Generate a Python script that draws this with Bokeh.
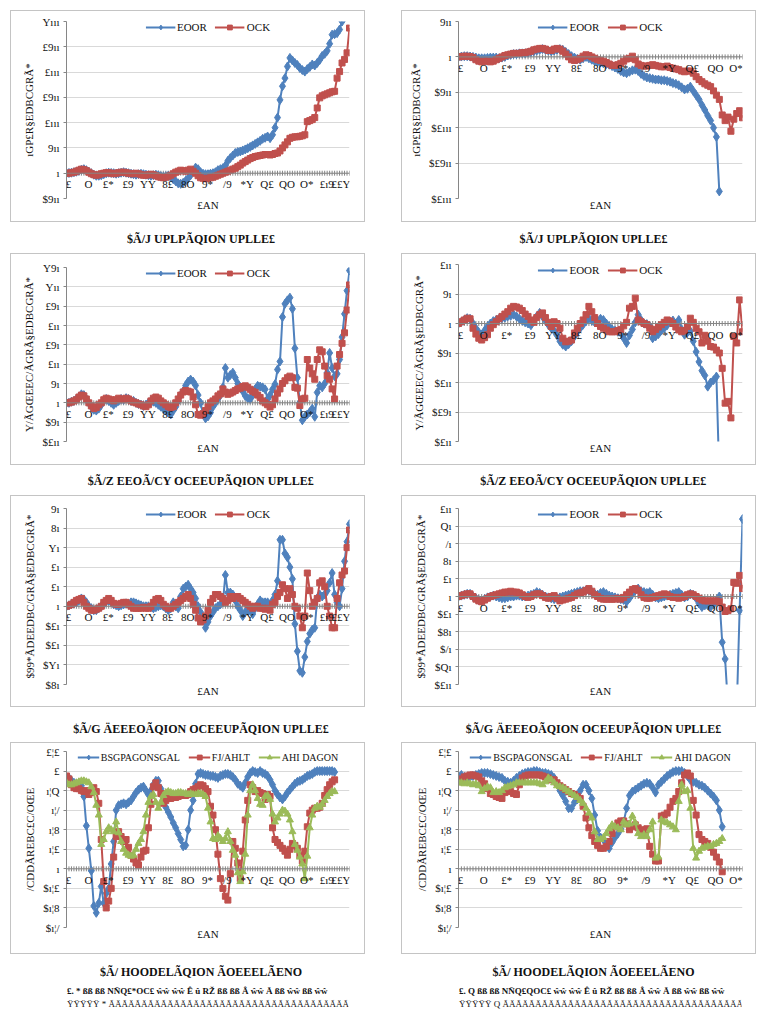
import math
from bokeh.plotting import figure
from bokeh.layouts import column, row
from bokeh.models import Range1d, FixedTicker, Span, Spacer, LabelSet, ColumnDataSource
from bokeh.core.properties import value
from bokeh.embed import file_html
from bokeh.resources import INLINE

FONT = "Liberation Serif"
BLUE, RED, GREEN = "#4F81BD", "#C0504D", "#9BBB59"
AXIS_GRAY, GRID_GRAY, BOX_GRAY = "#868686", "#d9d9d9", "#c4c4c4"

# ---------------------------------------------------------------- data
# category counts of the two chart columns
CATS_LEFT = 115
CATS_RIGHT = 99

# row 1
P1_Y = [-500, 0, 500, 1000, 1500, 2000, 2500, 3000]
P1_EOOR = [0, 5, 10, 20, 30, 50, 70, 80, 60, 30, 0, -30, -50, -50, -40, -20,
           0, 10, 5, 0, -10, 0, 10, 20, 10, 0, -10, -20, -30, -20, -10, -20,
           -30, -40, -50, -40, -30, -40, -60, -70, -60, -50, -80, -120, -160, -200, -210, -190,
           -150, -100, -40, 50, 110, 80, 20, -10, -20, -20, -10, 0, 20, 60, 80, 100,
           150, 245, 300, 350, 400, 420, 430, 450, 470, 495, 520, 550, 580, 610, 640, 680,
           700, 726, 693, 760, 900, 1100, 1450, 1720, 1880, 2110, 2280, 2230, 2180, 2140, 2080, 2040,
           2010, 2060, 2100, 2150, 2130, 2180, 2240, 2320, 2360, 2420, 2560, 2740, 2750, 2770, 2840, 3000]
P1_OCK = [0, 0, 10, 20, 40, 60, 80, 70, 50, 20, -10, -30, -40, -30, -10, 0,
          10, 10, 0, -10, 0, 10, 20, 20, 10, 0, -10, -10, 0, -10, -30, -40,
          -40, -30, -20, -30, -50, -70, -80, -90, -80, -60, -40, -10, 20, 40, 60, 50,
          40, 60, 80, 40, 0, -50, -90, -100, -110, -100, -90, -80, -60, -40, -20, 0,
          20, 40, 60, 80, 100, 130, 160, 200, 230, 260, 290, 310, 330, 340, 350, 360,
          370, 370, 360, 370, 390, 400, 440, 500, 560, 620, 690, 710, 720, 720, 730, 740,
          760, 1020, 1040, 1060, 1100, 1290, 1490, 1530, 1550, 1570, 1590, 1610, 1620, 1880, 2010, 2180,
          2250, 2380, 2870]
P2_Y = [-2000, -1500, -1000, -500, 0, 500]
P2_EOOR = [0, 5, 10, 10, 5, 0, -10, -20, -20, -20, -15, -10, -10, -10, -20, -10,
           0, 20, 30, 40, 40, 50, 50, 50, 60, 70, 80, 90, 100, 110, 100, 90,
           80, 90, 100, 110, 100, 70, 40, 10, -10, -30, -40, -20, 0, -20, -40, -60,
           -70, -80, -90, -100, -110, -130, -150, -170, -200, -220, -230, -210, -190, -180, -200, -240,
           -270, -290, -300, -310, -320, -320, -330, -330, -340, -350, -370, -380, -400, -430, -460, -450,
           -420, -480, -540, -600, -680, -750, -830, -900, -1000, -1130, -1900]
P2_OCK = [0, 5, 10, 10, 5, -10, -40, -60, -70, -60, -60, -70, -60, -40, -20, 0,
          20, 30, 40, 50, 50, 50, 60, 60, 70, 80, 100, 110, 120, 120, 110, 90,
          90, 110, 120, 110, 80, 40, 0, -40, -50, -40, -20, 10, 30, 20, 0, -20,
          -40, -50, -60, -80, -100, -120, -120, -110, -90, -60, -30, -20, 10, -40, -100, -120,
          -130, -130, -120, -110, -120, -130, -140, -140, -130, -150, -160, -170, -180, -200, -210, -200,
          -200, -230, -280, -320, -350, -380, -400, -420, -480, -540, -600, -820, -900, -850, -1050, -880,
          -800, -760, -860]

# row 2
P3_Y = [-100, -50, 0, 50, 100, 150, 200, 250, 300, 350]
P3_EOOR = [0, 0, 3, 5, 10, 15, 22, 20, 10, 0, -10, -18, -20, -15, -5, 5,
           10, 5, 0, -5, 0, 5, 10, 8, 12, 10, 5, 5, 0, -3, -5, -8,
           -5, 0, 5, 3, 0, -5, -10, -15, -20, -25, -30, -20, -10, 5, 20, 30,
           45, 55, 60, 55, 45, 20, 0, -30, -40, -35, -25, -10, 0, 10, 20, 40,
           90, 65, 72, 78, 65, 50, 40, 30, 18, 12, 10, 20, 35, 44, 42, 40,
           35, 10, 20, 35, 48, 86, 107, 222, 256, 265, 272, 243, 141, 65, 0, -45,
           -36, -30, -24, -15, -36, 27, 44, 40, 50, 78, 129, 90, 69, 75, 112, 170,
           230, 290, 342]
P3_OCK = [0, 0, 2, 5, 8, 15, 20, 18, 10, 0, -8, -15, -12, -5, 0, 8,
          12, 10, 8, 5, 8, 12, 10, 8, 12, 10, 5, 2, 0, -3, -5, -8,
          -10, -5, 5, 12, 15, 12, 5, 0, -5, -10, -12, -10, 0, 10, 20, 28,
          32, 30, 28, 15, -5, -30, -32, -28, -20, -10, 0, 5, 10, 18, 23, 36,
          28, 22, 25, 28, 32, 36, 38, 42, 44, 40, 35, 30, 27, 20, 14, 5,
          0, -5, -11, -5, 10, 25, 36, 50, 57, 65, 69, 65, 40, 38, -7, 10,
          12, 112, 90, 75, 61, 112, 137, 132, 95, 70, 61, 36, 10, 95, 125, 154,
          181, 240, 305]
P4_Y = [-200, -150, -100, -50, 0, 50, 100]
P4_EOOR = [0, 3, 6, 9, 8, 0, -8, -15, -19, -12, -5, 0, 4, 6, 8, 9,
           10, 12, 13, 15, 12, 8, 5, 2, 0, -3, 5, 12, 18, 12, 5, -2,
           -8, -12, -20, -30, -36, -39, -35, -30, -22, -14, -8, -2, 4, 9, 5, 2,
           5, 8, 6, 0, -5, -10, -12, -14, -16, -25, -33, -20, -10, 2, 15, 6,
           0, -1, -5, -25, -22, -18, -12, -8, -3, 3, 5, 0, 6, -10, -19, -15,
           -13, -30, -48, -65, -80, -88, -107, -100, -96, -90, -260]
P4_OCK = [0, 3, 6, 9, 8, -8, -18, -25, -28, -24, -19, -8, -2, 3, 8, 12,
          16, 20, 26, 29, 28, 26, 22, 16, 12, 6, 2, 10, 15, 18, 10, 2,
          -5, 3, 0, -8, -25, -31, -30, -28, -16, -8, 0, 6, 15, 29, 20, 10,
          0, -5, -8, -11, -14, -14, -14, -12, -10, -4, 2, 26, 29, 43, 6, 3,
          0, -2, -8, -14, -10, -6, -2, 2, 6, 4, 0, -6, -11, -14, -12, -5,
          9, 2, -8, -14, -33, -20, -30, -39, -40, -45, -50, -76, -135, -132, -160, -22,
          -33, 40, -14]

# row 3
P5_Y = [-40, -30, -20, -10, 0, 10, 20, 30, 40, 50]
P5_EOOR = [0, 0.5, 1, 1.5, 2, 3, 4, 3.5, 2, 0, -1, -2, -2, -1, 0, 1,
           2.5, 3, 2, 1, 0.5, 0, 0.5, 1, 1.5, 1, 2, 2, 1.5, 1, 0.5, 0,
           0, 0, -0.5, -1, -0.5, 0, 0.5, 0, -1, -2, -1, 2, 0, -1, 5, 9,
           10, 11, 9, 7, 4, 0, -3, -6, -11, -8, -5, -3, -1, 0, 1, 2,
           16, 7, 7, 6, 3, 0, -2, -5, -3, -2, -2, -4, -1, 1, 3, 2,
           2, 2, 0, 3, 6, 13, 34, 34, 27, 25, 20, 14, -9, -23, -33, -34,
           -26, -18, -14, -12, -11, 4, 6, 5, 6, 8, 12, 17, 6, 2, 0, 9,
           23, 33, 42]
P5_OCK = [0, 0.5, 1, 2, 3, 3.5, 4, 2, 0, -1, -2, -2, -1.5, -1, 0, 2,
          3, 4, 3, 1.5, 1, 1, 1.5, 2, 2, 1, 0, -1, -1, -1, -1, -0.5,
          -1, -1, 0, 2, 3.5, 4, 3, 1, 0, -1, -1, 0, 1, 2, 3, 4,
          5, 6, 4, 1, -2, -6, -8, -7, -5, -2, 2, 4, 6, 6, 5, 4,
          2, 3, 5, 4, 5, 5, 4, 3, 2, 1, 0, -1, 0, 0, -1, -1,
          -1.5, -1, -2, 1, 2, 5, 7, 11, 9, 4, 9, 6, 0, -1, -5, -11,
          -5, 17, 8, 0, 2, 4, 12, 13, 10, 0, -5, -11, -11, 4, 12, 16,
          18, 30, 39]
P6_Y = [-100, -80, -60, -40, -20, 0, 20, 40, 60, 80, 100]
P6_EOOR = [0, 1, 2, 3, 3, 0, -2, -4, -5, -3, -1, 0, 1, 0, -1, -2,
           -2, -1, 0, 0, 1, 1, 0, 0, 1, 2, 3, 5, 4, 2, 0, -1,
           -2, -3, -2, -1, 0, 1, 2, 3, 4, 5, 6, 6, 7, 7, 5, 3,
           2, 4, 5, 3, 1, 0, -1, -2, -3, -4, -6, -2, 3, 7, 9, 6,
           5, 4, 5, 2, -1, -2, -1, 0, 1, 2, 3, 4, 5, 2, -1, 0,
           3, 2, -2, -8, -12, -10, -10, -12, -9, -5, 0, -52, -71, -125, -160, -150,
           -130, -16, 88]
P6_OCK = [0, 1, 2, 3, 3, 0, -3, -5, -6, -4, -2, 0, 1, 2, 3, 4,
          5, 5, 6, 5, 5, 4, 2, 0, -1, 0, 2, 3, 3, 1, -1, -2,
          0, 1, -2, -5, -4, -3, -2, -1, 1, 3, 4, 5, 7, 9, 6, 2,
          0, -2, -3, -3, -3, -3, -3, -2, -3, -1, 2, 5, 8, 9, 7, 2,
          -1, -2, -2, -1, 0, 1, 2, 3, 2, 0, -1, -1, -2, -1, 0, 2,
          3, 2, 0, -2, -4, -5, -5, -5, -5, -5, -6, -12, -17, -16, -14, 16,
          15, 24, 9]

# row 4
P7_Y = [-0.6, -0.4, -0.2, 0, 0.2, 0.4, 0.6, 0.8, 1.0, 1.2]
P7_BSG = [0.93, 0.93, 0.9, 0.88, 0.87, 0.86, 0.85, 0.74, 0.44, 0.21, -0.02, -0.38, -0.45, -0.35, -0.18, -0.35,
          -0.25, -0.2, 0.05, 0.28, 0.6, 0.65, 0.66, 0.67, 0.66, 0.68, 0.7, 0.74, 0.78, 0.81, 0.83, 0.84,
          0.8, 0.76, 0.8, 0.86, 0.9, 0.9, 0.82, 0.71, 0.63, 0.58, 0.53, 0.47, 0.42, 0.36, 0.3, 0.23,
          0.24, 0.4, 0.6, 0.7, 0.87, 0.97, 0.98, 0.97, 0.96, 0.96, 0.95, 0.95, 0.94, 0.93, 0.95, 0.96,
          0.97, 0.97, 0.96, 0.94, 0.91, 0.87, 0.85, 0.83, 0.88, 0.94, 0.98, 1.0, 0.99, 0.98, 1.0, 0.98,
          0.97, 0.95, 0.91, 0.86, 0.8, 0.76, 0.73, 0.71, 0.74, 0.78, 0.81, 0.84, 0.87, 0.89, 0.9, 0.91,
          0.93, 0.95, 0.96, 0.97, 0.99, 1.0, 1.0, 1.0, 1.0, 1.0, 1.0, 1.0, 0.99]
P7_FJ = [0.95, 0.92, 0.86, 0.83, 0.82, 0.82, 0.8, 0.79, 0.8, 0.76, 0.78, 0.83, 0.79, 0.67, 0.3, -0.13,
         -0.4, -0.33, -0.2, 0.12, 0.33, 0.38, 0.33, 0.28, 0.3, 0.22, 0.14, 0.1, 0.06, 0.04, 0.12, 0.18,
         0.19, 0.42, 0.66, 0.84, 0.88, 0.83, 0.77, 0.67, 0.7, 0.72, 0.72, 0.73, 0.73, 0.74, 0.75, 0.75,
         0.75, 0.76, 0.79, 0.81, 0.82, 0.84, 0.86, 0.85, 0.82, 0.79, 0.64, 0.55, 0.4, 0.15, -0.1, -0.2,
         -0.28, -0.32, -0.05, 0.28, 0.21, 0.06, -0.1, 0.18, 0.5, 0.7, 0.86, 0.83, 0.79, 0.8, 0.78, 0.77,
         0.71, 0.76, 0.74, 0.42, 0.3, 0.27, 0.24, 0.21, 0.18, 0.14, 0.2, 0.26, 0.24, 0.21, 0.14, 0.08,
         0.18, 0.43, 0.57, 0.6, 0.62, 0.62, 0.63, 0.67, 0.75, 0.81, 0.86, 0.89, 0.91]
P7_AHI = [0.88, 0.86, 0.86, 0.87, 0.88, 0.89, 0.9, 0.9, 0.89, 0.88, 0.84, 0.78, 0.65, 0.55, 0.25, 0.3,
          0.38, 0.42, 0.4, 0.38, 0.48, 0.37, 0.28, 0.2, 0.16, 0.14, 0.13, 0.14, 0.2, 0.26, 0.3, 0.38,
          0.55, 0.68, 0.74, 0.76, 0.68, 0.62, 0.68, 0.75, 0.78, 0.79, 0.78, 0.77, 0.77, 0.78, 0.78, 0.77,
          0.77, 0.76, 0.77, 0.76, 0.76, 0.77, 0.77, 0.76, 0.74, 0.62, 0.48, 0.31, 0.3, 0.34, 0.31, 0.28,
          0.31, 0.38, 0.28, 0.19, 0.14, -0.04, -0.13, -0.03, 0.15, 0.55, 0.8, 0.86, 0.8, 0.72, 0.66, 0.65,
          0.74, 0.75, 0.71, 0.56, 0.48, 0.52, 0.56, 0.6, 0.59, 0.56, 0.5, 0.38, 0.25, 0.19, 0.12, 0.05,
          -0.1, 0.13, 0.42, 0.55, 0.62, 0.64, 0.63, 0.66, 0.7, 0.74, 0.77, 0.79, 0.79]
P8_Y = [-0.6, -0.4, -0.2, 0, 0.2, 0.4, 0.6, 0.8, 1.0, 1.2]
P8_BSG = [0.95, 0.96, 0.94, 0.93, 0.94, 0.95, 0.96, 0.97, 0.98, 0.98, 0.98, 0.97, 0.96, 0.95, 0.94, 0.93,
          0.9, 0.89, 0.88, 0.9, 0.93, 0.95, 0.97, 0.98, 0.99, 0.99, 1.0, 1.0, 0.99, 0.98, 0.98, 0.97,
          0.96, 0.93, 0.87, 0.8, 0.75, 0.69, 0.62, 0.62, 0.68, 0.71, 0.8, 0.86, 0.86, 0.8, 0.72, 0.55,
          0.39, 0.32, 0.3, 0.26, 0.21, 0.27, 0.32, 0.36, 0.41, 0.48, 0.62, 0.75, 0.79, 0.81, 0.83, 0.85,
          0.87, 0.88, 0.87, 0.83, 0.78, 0.86, 0.89, 0.92, 0.95, 0.97, 0.99, 1.0, 1.0, 1.0, 0.98, 0.95,
          0.91, 0.89, 0.88, 0.86, 0.85, 0.83, 0.8, 0.77, 0.74, 0.7, 0.6, 0.43]
P8_FJ = [0.89, 0.92, 0.94, 0.95, 0.96, 0.96, 0.95, 0.94, 0.9, 0.87, 0.82, 0.77, 0.76, 0.74, 0.73, 0.72,
         0.78, 0.8, 0.79, 0.77, 0.76, 0.86, 0.93, 0.95, 0.96, 0.96, 0.96, 0.96, 0.96, 0.95, 0.94, 0.93,
         0.91, 0.91, 0.88, 0.85, 0.83, 0.81, 0.79, 0.77, 0.76, 0.74, 0.72, 0.64, 0.52, 0.42, 0.34, 0.28,
         0.24, 0.21, 0.21, 0.23, 0.28, 0.36, 0.43, 0.47, 0.49, 0.49, 0.46, 0.4, 0.43, 0.45, 0.42, 0.4,
         0.38, 0.41, 0.23, 0.15, 0.08, 0.08, 0.54, 0.55, 0.57, 0.63, 0.69, 0.72, 0.79, 0.88, 0.96, 0.98,
         0.95, 0.7, 0.55, 0.35, 0.3, 0.28, 0.26, 0.22, 0.17, 0.12, 0.07, -0.03]
P8_AHI = [0.88, 0.88, 0.87, 0.88, 0.87, 0.86, 0.87, 0.85, 0.79, 0.82, 0.84, 0.83, 0.78, 0.79, 0.78, 0.8,
          0.83, 0.84, 0.85, 0.86, 0.88, 0.88, 0.88, 0.88, 0.88, 0.88, 0.88, 0.88, 0.87, 0.86, 0.89, 0.93,
          0.91, 0.88, 0.85, 0.84, 0.83, 0.81, 0.79, 0.77, 0.75, 0.73, 0.7, 0.67, 0.62, 0.57, 0.52, 0.38,
          0.3, 0.3, 0.32, 0.36, 0.41, 0.45, 0.43, 0.42, 0.4, 0.48, 0.45, 0.46, 0.54, 0.47, 0.36, 0.33,
          0.35, 0.33, 0.4, 0.48, 0.11, 0.12, 0.5, 0.48, 0.47, 0.45, 0.43, 0.4, 0.69, 0.86, 0.79, 0.8,
          0.62, 0.21, 0.11, 0.18, 0.21, 0.22, 0.23, 0.23, 0.25, 0.26, 0.28, 0.31]

# ---------------------------------------------------------------- texts
SERIES_A = ["EOOR", "OCK"]
SERIES_B = ["BSGPAGONSGAL", "FJ/AHLT", "AHI DAGON"]
XTITLE = "£AN"
YTITLES = ["ıGP£R§EDBCGRÃ*", "Y/ÃGŒEEC/ÃGRÃ§EDBCGRÃ*", "$99*ÃDEEDBC/GRÃ§EDBCGRÃ*", "/CDDÃREBC£C/OŒE"]
CAPTIONS = ["$Ã/J UPLPÃQION UPLLE£", "$Ã/Z EEOÃ/CY OCEEUPÃQION UPLLE£",
            "$Ã/G ÄEEEOÃQION OCEEUPÃQION UPLLE£", "$Ã/ HOODELÃQION ÃOEEELÃENO"]
NOTES_LEFT = ["£.  *   ßß ßß  NÑQ£*OC£  ŵŵ ŵŵ  Ê û  RŽ ßß ßß  Â ŵŵ  Ã ßß ŵŵ ßß ŵŵ",
              "ŸŸŸŸŸ *      ÃÄÃÄÃÄÃÄÃÄÃÄÃÄÃÄÃÄÃÄÃÄÃÄÃÄÃÄÃÄÃÄÃÄÃÄÃÄ"]
NOTES_RIGHT = ["£.  Q   ßß ßß  NÑQ£QOC£  ŵŵ ŵŵ  Ê û  RŽ ßß ßß  Â ŵŵ  Ã ßß ŵŵ ßß ŵŵ",
               "ŸŸŸŸŸ Q      ÃÄÃÄÃÄÃÄÃÄÃÄÃÄÃÄÃÄÃÄÃÄÃÄÃÄÃÄÃÄÃÄÃÄÃÄÃÄ"]

# number glyphs as they appear in the document font
DIGIT_GLYPHS = {"0": "ı", "1": "£", "2": "£", "3": "Y", "4": "8", "5": "9",
                "6": "/", "7": "*", "8": "Q", "9": "O", "-": "$", ".": "¦"}


def glyph_text(s):
    return "".join(DIGIT_GLYPHS.get(ch, ch) for ch in s)


def num_text(v):
    return glyph_text(f"{v:g}")


BOX_W, BOX_H = 355, 212
LABEL_STEP = 8


def chart(cat_count, yticks, series, ytitle, borders, legend_font="11px", glyph_w=30):
    left, right, top, bottom = borders
    p = figure(width=BOX_W, height=BOX_H, output_backend="svg", toolbar_location=None,
               x_range=Range1d(1, cat_count), y_range=Range1d(yticks[0], yticks[-1]),
               min_border_left=left, min_border_right=right,
               min_border_top=top, min_border_bottom=bottom)
    p.styles = {"border": f"1px solid {BOX_GRAY}"}
    p.outline_line_color = None
    p.background_fill_color = "white"
    p.border_fill_color = "white"

    p.xgrid.visible = False
    p.ygrid.ticker = FixedTicker(ticks=yticks)
    p.ygrid.grid_line_color = GRID_GRAY

    ya = p.yaxis[0]
    ya.ticker = FixedTicker(ticks=yticks)
    ya.major_label_overrides = {t: num_text(t) for t in yticks}
    ya.axis_line_color = AXIS_GRAY
    ya.major_tick_line_color = AXIS_GRAY
    ya.major_tick_in = 0
    ya.major_tick_out = 3
    ya.minor_tick_line_color = None
    ya.major_label_text_font = FONT
    ya.major_label_text_font_size = "11px"
    ya.major_label_text_color = "#111111"
    ya.major_label_standoff = 4
    ya.axis_label = ytitle
    ya.axis_label_text_font = FONT
    ya.axis_label_text_font_size = "11px"
    ya.axis_label_text_font_style = "normal"
    ya.axis_label_text_color = "#111111"
    ya.axis_label_standoff = 4

    xa = p.xaxis[0]
    xa.ticker = FixedTicker(ticks=[])
    xa.axis_line_color = None
    xa.major_tick_line_color = None
    xa.minor_tick_line_color = None
    xa.major_label_text_font_size = "0px"
    xa.major_label_standoff = 0
    xa.axis_label = XTITLE
    xa.axis_label_text_font = FONT
    xa.axis_label_text_font_size = "11px"
    xa.axis_label_text_font_style = "normal"
    xa.axis_label_text_color = "#111111"
    xa.axis_label_standoff = 0

    # category axis crossing at zero
    cats = list(range(1, cat_count + 1))
    p.add_layout(Span(location=0, dimension="width", line_color=AXIS_GRAY, line_width=1))
    p.scatter(x=cats, y=[0] * cat_count, marker="dash", angle=math.pi / 2, size=5,
              line_color=AXIS_GRAY, line_width=1)
    lab_x = list(range(1, cat_count + 1, LABEL_STEP))
    # the label nearest the right edge is kept inside the plot area
    aligns = ["right" if cat_count - c < 4 else "center" for c in lab_x]
    offs = [6 if a == "right" else 2 for a in aligns]
    lab_src = ColumnDataSource(dict(x=lab_x, y=[0] * len(lab_x),
                                    t=[glyph_text(str(c)) for c in lab_x],
                                    a=aligns, o=offs))
    p.add_layout(LabelSet(x="x", y="y", text="t", source=lab_src, x_offset="o", y_offset=-5,
                          text_font=value(FONT), text_font_size="11px", text_color="#111111",
                          text_align="a", text_baseline="top"))

    for name, vals, color, marker, size in series:
        xs = list(range(1, len(vals) + 1))
        p.line(xs, vals, line_color=color, line_width=2, legend_label=name)
        p.scatter(xs, vals, marker=marker, size=size, fill_color=color, line_color=color,
                  legend_label=name)

    lg = p.legend[0]
    lg.location = "top_center"
    lg.orientation = "horizontal"
    lg.background_fill_alpha = 0
    lg.border_line_alpha = 0
    lg.margin = 0
    lg.padding = 0
    lg.spacing = 8
    lg.glyph_width = glyph_w
    lg.glyph_height = 12
    lg.label_height = 12
    lg.label_standoff = 2
    lg.label_text_font = FONT
    lg.label_text_font_size = legend_font
    lg.label_text_color = "#111111"
    return p


def caption(height, lines):
    c = figure(width=BOX_W, height=height, output_backend="svg", toolbar_location=None,
               x_range=Range1d(0, BOX_W), y_range=Range1d(height, 0),
               x_axis_type=None, y_axis_type=None, min_border=0)
    c.grid.visible = False
    c.outline_line_color = None
    for txt, x, y, size, align, style in lines:
        c.text(x=[x], y=[y], text=[txt], text_font=value(FONT), text_font_size=size,
               text_font_style=style, text_color="#111111", text_align=align,
               text_baseline="middle")
    return c


def two(vals_a, vals_b):
    return [(SERIES_A[0], vals_a, BLUE, "diamond", 9), (SERIES_A[1], vals_b, RED, "square", 6)]


def three(a, b, c):
    return [(SERIES_B[0], a, BLUE, "diamond", 9), (SERIES_B[1], b, RED, "square", 6),
            (SERIES_B[2], c, GREEN, "triangle", 7)]


p1 = chart(CATS_LEFT, P1_Y, two(P1_EOOR, P1_OCK), YTITLES[0], (55, 17, 10, 25))
p2 = chart(CATS_RIGHT, P2_Y, two(P2_EOOR, P2_OCK), YTITLES[0], (56, 14, 10, 25))
p3 = chart(CATS_LEFT, P3_Y, two(P3_EOOR, P3_OCK), YTITLES[1], (53, 17, 13, 25))
p4 = chart(CATS_RIGHT, P4_Y, two(P4_EOOR, P4_OCK), YTITLES[1], (52, 14, 10, 25))
p5 = chart(CATS_LEFT, P5_Y, two(P5_EOOR, P5_OCK), YTITLES[2], (48, 17, 12, 24))
p6 = chart(CATS_RIGHT, P6_Y, two(P6_EOOR, P6_OCK), YTITLES[2], (52, 14, 12, 24))
p7 = chart(CATS_LEFT, P7_Y, three(P7_BSG, P7_FJ, P7_AHI), YTITLES[3], (50, 17, 8, 28),
           legend_font="10px", glyph_w=22)
p8 = chart(CATS_RIGHT, P8_Y, three(P8_BSG, P8_FJ, P8_AHI), YTITLES[3], (50, 15, 8, 28),
           legend_font="10px", glyph_w=22)

CAP_SIZE = "12px"
NOTE_SIZE = "9px"


def caps(notes):
    return [
        caption(31, [(CAPTIONS[0], 170, 16, CAP_SIZE, "center", "bold")]),
        caption(30, [(CAPTIONS[1], 170, 15, CAP_SIZE, "center", "bold")]),
        caption(35, [(CAPTIONS[2], 170, 21, CAP_SIZE, "center", "bold")]),
        caption(55, [(CAPTIONS[3], 170, 17, CAP_SIZE, "center", "bold"),
                     (notes[0], 2, 36, NOTE_SIZE, "left", "bold"),
                     (notes[1], 2, 49, NOTE_SIZE, "left", "normal")]),
    ]


cl = caps(NOTES_LEFT)
cr = caps(NOTES_RIGHT)
left_col = column(Spacer(height=10), p1, cl[0], p3, cl[1], p5, cl[2], p7, cl[3])
right_col = column(Spacer(height=10), p2, cr[0], p4, cr[1], p6, cr[2], p8, cr[3])
page = row(Spacer(width=10), left_col, Spacer(width=36), right_col)

open("out.html", "w").write(file_html(page, INLINE))
